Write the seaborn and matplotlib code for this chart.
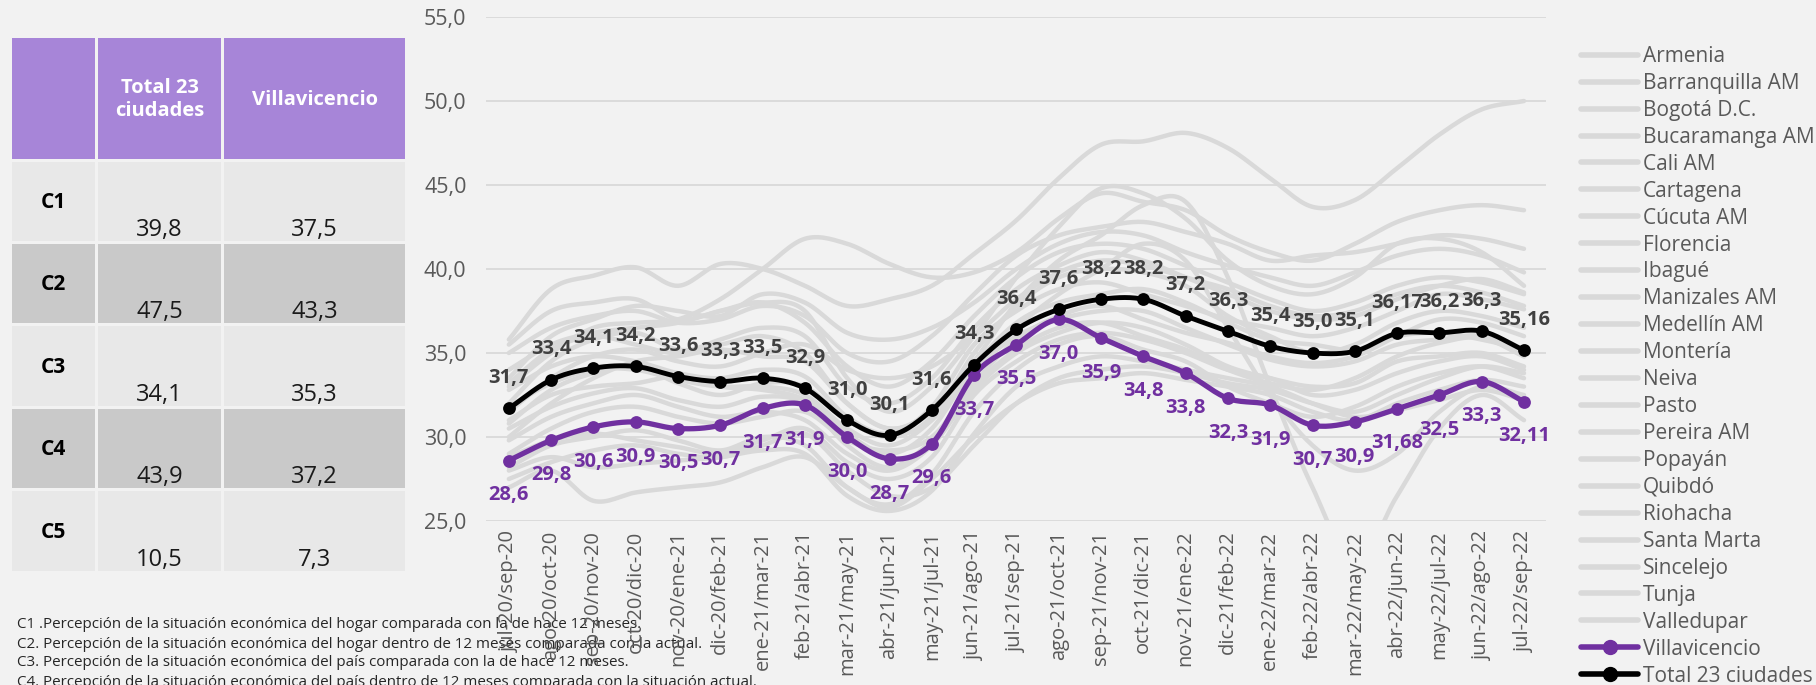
import numpy as np
import pandas as pd
import seaborn as sns
import matplotlib
matplotlib.use("Agg")
import matplotlib.pyplot as plt
from matplotlib.lines import Line2D
from matplotlib.patches import Rectangle

# periods (x axis)
periodos = ["jul-20/sep-20", "ago-20/oct-20", "sep-20/nov-20", "oct-20/dic-20", "nov-20/ene-21",
            "dic-20/feb-21", "ene-21/mar-21", "feb-21/abr-21", "mar-21/may-21", "abr-21/jun-21",
            "may-21/jul-21", "jun-21/ago-21", "jul-21/sep-21", "ago-21/oct-21", "sep-21/nov-21",
            "oct-21/dic-21", "nov-21/ene-22", "dic-21/feb-22", "ene-22/mar-22", "feb-22/abr-22",
            "mar-22/may-22", "abr-22/jun-22", "may-22/jul-22", "jun-22/ago-22", "jul-22/sep-22"]

# highlighted series
total_23 = [31.7, 33.4, 34.1, 34.2, 33.6, 33.3, 33.5, 32.9, 31.0, 30.1, 31.6, 34.3, 36.4, 37.6, 38.2,
            38.2, 37.2, 36.3, 35.4, 35.0, 35.1, 36.17, 36.2, 36.3, 35.16]
total_lbl = ["31,7", "33,4", "34,1", "34,2", "33,6", "33,3", "33,5", "32,9", "31,0", "30,1", "31,6", "34,3",
             "36,4", "37,6", "38,2", "38,2", "37,2", "36,3", "35,4", "35,0", "35,1", "36,17", "36,2", "36,3", "35,16"]
villavicencio = [28.6, 29.8, 30.6, 30.9, 30.5, 30.7, 31.7, 31.9, 30.0, 28.7, 29.6, 33.7, 35.5, 37.0, 35.9,
                 34.8, 33.8, 32.3, 31.9, 30.7, 30.9, 31.68, 32.5, 33.3, 32.11]
villa_lbl = ["28,6", "29,8", "30,6", "30,9", "30,5", "30,7", "31,7", "31,9", "30,0", "28,7", "29,6", "33,7",
             "35,5", "37,0", "35,9", "34,8", "33,8", "32,3", "31,9", "30,7", "30,9", "31,68", "32,5", "33,3", "32,11"]

# other cities (grey background lines)
armenia      = [30.5, 31.8, 32.6, 32.9, 32.2, 31.8, 32.4, 32.0, 29.5, 28.2, 29.8, 33.0, 35.2, 36.5, 36.8, 36.0, 35.2, 34.0, 33.2, 32.8, 33.5, 34.8, 35.6, 35.9, 34.8]
barranquilla = [35.8, 38.8, 39.6, 40.1, 39.0, 40.3, 40.0, 39.0, 37.8, 38.2, 39.0, 40.9, 42.9, 45.4, 47.4, 47.6, 48.1, 47.2, 45.4, 43.7, 44.1, 46.0, 48.0, 49.5, 50.0]
bogota       = [29.8, 31.2, 32.0, 32.5, 31.8, 31.2, 31.5, 31.0, 29.0, 28.0, 29.5, 32.8, 35.0, 36.2, 36.8, 36.5, 35.5, 34.2, 33.5, 33.0, 33.2, 34.5, 34.8, 35.0, 34.2]
bucaramanga  = [33.0, 35.0, 36.5, 36.8, 37.0, 38.2, 40.0, 41.8, 41.5, 40.3, 39.5, 39.8, 41.0, 43.0, 44.5, 44.0, 43.5, 42.0, 41.0, 40.5, 41.5, 42.8, 43.5, 43.8, 43.5]
cali         = [28.2, 29.5, 30.0, 30.4, 29.8, 29.2, 30.0, 29.5, 27.0, 26.0, 27.8, 31.5, 34.0, 35.5, 36.0, 35.2, 34.5, 33.0, 32.0, 31.2, 31.8, 33.0, 33.8, 34.2, 33.5]
cartagena    = [35.0, 36.5, 37.2, 37.5, 36.8, 37.0, 37.8, 37.2, 35.0, 34.5, 36.0, 38.5, 40.8, 42.0, 42.5, 42.8, 42.2, 41.5, 40.5, 40.8, 41.0, 41.5, 42.0, 41.8, 41.2]
cucuta       = [27.0, 28.0, 26.2, 26.7, 27.0, 27.3, 28.2, 28.8, 27.0, 25.8, 27.5, 30.0, 32.0, 33.2, 33.5, 33.8, 33.4, 33.0, 32.5, 31.5, 31.0, 32.0, 32.8, 33.4, 33.0]
florencia    = [32.0, 34.5, 35.8, 36.2, 35.2, 35.5, 36.0, 35.0, 32.0, 30.5, 31.5, 34.5, 38.0, 40.5, 42.0, 43.8, 44.0, 39.5, 33.0, 27.0, 22.5, 26.5, 30.5, 32.5, 31.0]
ibague       = [31.0, 32.5, 33.0, 33.2, 33.6, 33.0, 32.8, 32.2, 30.2, 29.0, 30.5, 34.2, 36.8, 38.0, 38.5, 38.8, 38.0, 36.8, 35.8, 35.5, 35.2, 36.0, 36.2, 35.8, 35.2]
manizales    = [29.0, 30.5, 31.5, 31.8, 31.2, 30.8, 31.2, 31.5, 29.8, 29.2, 30.0, 33.2, 35.8, 37.2, 37.8, 37.0, 36.2, 35.6, 34.8, 34.4, 34.8, 36.0, 37.0, 36.8, 36.0]
medellin     = [31.8, 33.2, 34.0, 34.0, 33.4, 33.0, 33.0, 32.5, 30.5, 29.5, 31.0, 34.0, 36.0, 37.0, 37.5, 37.5, 36.5, 35.5, 34.6, 34.2, 34.5, 35.5, 35.8, 36.0, 34.8]
monteria     = [33.5, 36.0, 37.0, 37.8, 37.5, 37.2, 38.5, 38.0, 36.2, 35.8, 36.5, 38.0, 40.0, 41.5, 42.2, 42.0, 41.0, 40.2, 39.5, 39.0, 39.8, 40.8, 41.2, 40.8, 39.8]
neiva        = [30.0, 32.0, 33.5, 34.5, 34.8, 35.2, 34.8, 34.5, 32.0, 30.5, 31.5, 33.8, 36.5, 38.5, 40.0, 41.5, 40.5, 36.5, 32.5, 29.5, 28.0, 29.0, 31.5, 33.0, 32.5]
pasto        = [27.5, 28.5, 29.2, 29.5, 29.0, 28.8, 29.5, 30.2, 28.0, 26.5, 27.0, 29.5, 32.0, 33.5, 34.0, 34.2, 33.8, 33.2, 32.8, 32.0, 31.5, 32.5, 33.5, 34.2, 33.8]
pereira      = [32.8, 34.2, 34.8, 34.5, 33.8, 33.5, 34.0, 33.6, 31.2, 30.2, 31.8, 35.5, 37.5, 38.8, 39.2, 38.5, 37.8, 37.0, 36.5, 36.0, 36.5, 37.5, 38.5, 38.2, 37.6]
popayan      = [28.8, 29.8, 30.2, 29.8, 29.4, 29.0, 29.8, 30.5, 28.5, 27.5, 28.8, 32.5, 34.5, 35.8, 36.2, 35.8, 35.0, 34.0, 33.5, 32.5, 32.8, 33.8, 34.5, 34.8, 34.0]
quibdo       = [35.5, 37.5, 38.0, 38.2, 37.0, 37.5, 38.0, 37.5, 33.5, 31.5, 33.0, 36.0, 39.5, 42.5, 44.8, 44.5, 43.0, 40.5, 39.0, 38.5, 39.5, 41.5, 41.8, 41.0, 39.0]
riohacha     = [34.0, 35.5, 36.2, 36.5, 36.8, 37.5, 38.0, 36.8, 34.2, 33.0, 34.5, 37.2, 39.5, 41.0, 41.5, 41.2, 40.2, 39.2, 38.2, 37.5, 38.0, 39.0, 39.5, 39.2, 38.5]
santa_marta  = [33.2, 35.2, 36.0, 35.5, 35.0, 35.8, 36.5, 36.0, 33.0, 32.0, 33.5, 36.5, 38.8, 40.2, 41.0, 40.5, 39.5, 38.5, 37.5, 37.0, 37.2, 38.2, 39.0, 39.4, 38.6]
sincelejo    = [31.5, 33.5, 34.8, 35.2, 34.5, 34.2, 35.0, 35.5, 34.0, 33.5, 34.2, 36.0, 38.2, 39.8, 40.5, 40.2, 39.5, 38.8, 37.8, 37.2, 37.5, 38.5, 39.0, 38.6, 37.8]
tunja        = [28.0, 28.8, 28.2, 28.4, 28.6, 28.8, 29.2, 29.0, 26.5, 25.6, 26.8, 30.2, 33.0, 34.2, 34.8, 34.5, 34.0, 33.5, 33.0, 32.0, 31.2, 31.6, 32.2, 32.8, 32.2]
valledupar   = [30.8, 32.8, 33.8, 34.2, 33.2, 32.5, 33.2, 33.0, 31.0, 30.0, 31.2, 35.0, 37.8, 39.5, 40.0, 39.8, 39.0, 37.2, 36.0, 35.0, 35.5, 36.8, 37.5, 37.2, 36.5]

ciudades = ["Armenia", "Barranquilla AM", "Bogotá D.C.", "Bucaramanga AM", "Cali AM", "Cartagena",
            "Cúcuta AM", "Florencia", "Ibagué", "Manizales AM", "Medellín AM", "Montería", "Neiva",
            "Pasto", "Pereira AM", "Popayán", "Quibdó", "Riohacha", "Santa Marta", "Sincelejo",
            "Tunja", "Valledupar"]
grises = [armenia, barranquilla, bogota, bucaramanga, cali, cartagena, cucuta, florencia, ibague,
          manizales, medellin, monteria, neiva, pasto, pereira, popayan, quibdo, riohacha,
          santa_marta, sincelejo, tunja, valledupar]

# summary table
tabla_filas = ["C1", "C2", "C3", "C4", "C5"]
tabla_total = ["39,8", "47,5", "34,1", "43,9", "10,5"]
tabla_villa = ["37,5", "43,3", "35,3", "37,2", "7,3"]

notas = ["C1 .Percepción de la situación económica del hogar comparada con la de hace 12 meses.",
         "C2. Percepción de la situación económica del hogar dentro de 12 meses comparada con la actual.",
         "C3. Percepción de la situación económica del país comparada con la de hace 12 meses.",
         "C4. Percepción de la situación económica del país dentro de 12 meses comparada con la situación actual."]

GRIS = "#D9D9D9"
MORADO = "#7030A0"
FONDO = "#F2F2F2"

sns.set_style("white")
plt.rcParams["font.family"] = ["Open Sans", "DejaVu Sans"]


def suave(vals, n=16):
    # smooth curve through the points (like excel "smoothed line")
    y = np.asarray(vals, float)
    p = np.concatenate([[2 * y[0] - y[1]], y, [2 * y[-1] - y[-2]]])
    xs, ys = [], []
    t = np.linspace(0, 1, n, endpoint=False)
    for i in range(len(y) - 1):
        p0, p1, p2, p3 = p[i], p[i + 1], p[i + 2], p[i + 3]
        ys.append(0.5 * (2 * p1 + (-p0 + p2) * t + (2 * p0 - 5 * p1 + 4 * p2 - p3) * t ** 2
                         + (-p0 + 3 * p1 - 3 * p2 + p3) * t ** 3))
        xs.append(i + t)
    xs.append([len(y) - 1])
    ys.append([y[-1]])
    return np.concatenate(xs), np.concatenate(ys)


fig = plt.figure(figsize=(18.16, 6.85), dpi=100, facecolor=FONDO)

# background layer in pixel coords for the table and the notes
bg = fig.add_axes([0, 0, 1, 1], zorder=0)
bg.set_xlim(0, 1816)
bg.set_ylim(685, 0)
bg.axis("off")

ax = fig.add_axes([486 / 1816, 1 - 521 / 685, (1546 - 486) / 1816, (521 - 17) / 685], zorder=1)
ax.set_facecolor("none")

x = np.arange(len(periodos))

for serie in grises:
    sx, sy = suave(serie)
    sns.lineplot(x=sx, y=sy, ax=ax, color=GRIS, lw=3.2, sort=False, estimator=None, legend=False, zorder=2)

sx, sy = suave(villavicencio)
sns.lineplot(x=sx, y=sy, ax=ax, color=MORADO, lw=3.8, sort=False, estimator=None, legend=False, zorder=3)
sns.scatterplot(x=x, y=villavicencio, ax=ax, color=MORADO, s=85, linewidth=0, zorder=4, legend=False)

sx, sy = suave(total_23)
sns.lineplot(x=sx, y=sy, ax=ax, color="black", lw=3.5, sort=False, estimator=None, legend=False, zorder=5)
sns.scatterplot(x=x, y=total_23, ax=ax, color="black", s=85, linewidth=0, zorder=6, legend=False)

for i in range(len(periodos)):
    ax.annotate(total_lbl[i], (x[i], total_23[i]), xytext=(0, 22), textcoords="offset points",
                ha="center", va="center", fontsize=14.5, fontweight="bold", color="#404040", zorder=7)
    ax.annotate(villa_lbl[i], (x[i], villavicencio[i]), xytext=(0, -25), textcoords="offset points",
                ha="center", va="center", fontsize=14.5, fontweight="bold", color=MORADO, zorder=7)

ax.set_xlim(-0.54, 24.52)
ax.set_ylim(25, 55)
ax.set_yticks(np.arange(25, 56, 5))
ax.set_yticklabels([f"{v:.1f}".replace(".", ",") for v in np.arange(25, 56, 5)])
ax.set_xticks(x)
ax.set_xticklabels(periodos, rotation=90)
ax.tick_params(axis="y", length=0, pad=14, labelsize=15.5, labelcolor="#595959")
ax.tick_params(axis="x", length=0, pad=7, labelsize=14.5, labelcolor="#595959")
ax.grid(axis="y", color=GRIS, lw=1.3)
ax.grid(axis="x", visible=False)
ax.set_axisbelow(True)
for s in ax.spines.values():
    s.set_visible(False)
ax.set_xlabel("")
ax.set_ylabel("")

# legend
handles = [Line2D([], [], color=GRIS, lw=4.0) for _ in ciudades]
handles.append(Line2D([], [], color=MORADO, lw=4.0, marker="o", markersize=10))
handles.append(Line2D([], [], color="black", lw=4.0, marker="o", markersize=10))
leg = fig.legend(handles, ciudades + ["Villavicencio", "Total 23 ciudades"],
                 loc="upper left", bbox_to_anchor=(1581 / 1816, 1 - 46 / 685),
                 frameon=False, fontsize=15, labelcolor="#595959",
                 handlelength=2.75, handletextpad=0.22, labelspacing=0.285, borderaxespad=0, borderpad=0)

# table
cols = [(12, 95), (98, 221), (224, 405)]
for (x0, x1) in cols:
    bg.add_patch(Rectangle((x0, 38), x1 - x0, 121, color="#A785D8", lw=0))
bg.text((cols[1][0] + cols[1][1]) / 2, 99, "Total 23\nciudades", ha="center", va="center",
        fontsize=14.5, fontweight="bold", color="white", linespacing=1.2)
bg.text((cols[2][0] + cols[2][1]) / 2, 100, "Villavicencio", ha="center", va="center",
        fontsize=14.5, fontweight="bold", color="white")

filas_y = [(162, 241), (244, 323), (326, 406), (409, 488), (491, 571)]
for k, (y0, y1) in enumerate(filas_y):
    c = "#E8E8E8" if k % 2 == 0 else "#C9C9C9"
    for (x0, x1) in cols:
        bg.add_patch(Rectangle((x0, y0), x1 - x0, y1 - y0, color=c, lw=0))
    bg.text((cols[0][0] + cols[0][1]) / 2, (y0 + y1) / 2 + 1, tabla_filas[k], ha="center", va="center",
            fontsize=15, fontweight="bold", color="black")
    bg.text((cols[1][0] + cols[1][1]) / 2, y1 - 5, tabla_total[k], ha="center", va="baseline",
            fontsize=17, color="#1A1A1A")
    bg.text((cols[2][0] + cols[2][1]) / 2, y1 - 5, tabla_villa[k], ha="center", va="baseline",
            fontsize=17, color="#1A1A1A")

# notes: size picked so that the second line is about 680 px wide, like the original
fig.canvas.draw()
rend = fig.canvas.get_renderer()
prueba = bg.text(0, 0, notas[1], fontsize=12)
ancho = prueba.get_window_extent(rend).width
prueba.remove()
tam_nota = 12 * 680 / ancho
for k, n in enumerate(notas):
    bg.text(17, 625 + k * 19, n, ha="left", va="center", fontsize=tam_nota, color="#262626")

fig.savefig("out.png", dpi=100, facecolor=FONDO)
